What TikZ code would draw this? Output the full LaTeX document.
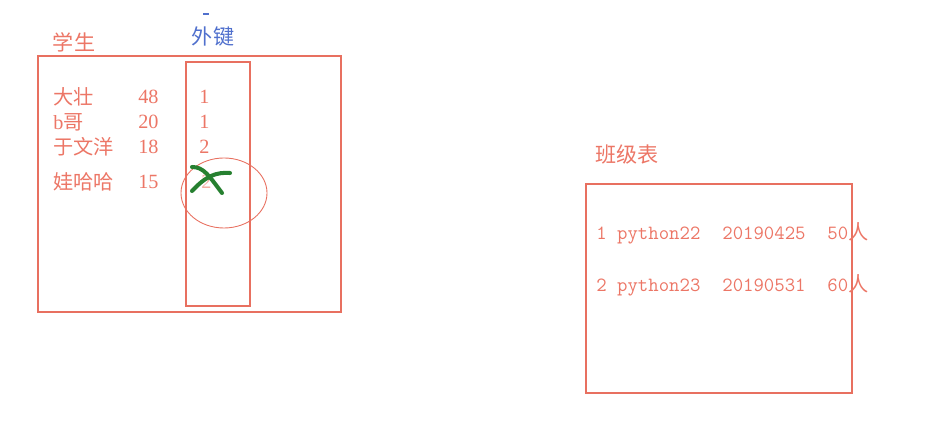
\documentclass[tikz,border=0pt]{standalone}
\usepackage{fontspec}
\newfontfamily\cjk{Noto Sans CJK SC}
\newfontfamily\numfont{Liberation Serif}
\usetikzlibrary{positioning}
\definecolor{linered}{RGB}{232,112,96}
\definecolor{textred}{RGB}{236,118,102}
\definecolor{keyblue}{RGB}{80,112,205}
\definecolor{crossgreen}{RGB}{38,128,48}

\begin{document}
\begin{tikzpicture}[
    x=0.02cm, y=-0.02cm,
    frame/.style={draw=linered, line width=0.8pt},
    title/.style={text=textred, font=\cjk\fontsize{12}{14}\selectfont, inner sep=0pt},
    cell/.style={text=textred, font=\numfont\fontsize{11.5}{13}\selectfont, anchor=west, inner sep=0pt},
    row/.style={text=textred, font=\ttfamily\fontsize{11.5}{13}\selectfont, anchor=base west, inner sep=0pt},
    scrawl/.style={draw=crossgreen, line width=2.3pt, line cap=round}
]
\useasboundingbox (0,0) rectangle (925,431);

% ---------------- student table ----------------
\draw[frame] (38,56) rectangle (341,312);
\draw[frame] (186,62) rectangle (250,306);
\node[title] (stu) at (74,42) {学生};
\node[title, text=keyblue] (fk) at (213,37) {外键};
\draw[keyblue, line width=0.8pt] (203,14) -- (209,14);

\foreach \nm/\age/\cls/\y [count=\i] in {{\cjk 大壮}/48/1/97, {b\cjk 哥}/20/1/122, {\cjk 于文洋}/18/2/147}
{
    \node[cell] (name\i) at (53,\y) {\nm};
    \node[cell] (age\i) at (138,\y) {\age};
    \node[cell] (cls\i) at (199,\y) {\cls};
}
\node[cell] (name4) at (53,182) {\cjk 娃哈哈};
\node[cell] (age4) at (138,182) {15};
\node[cell, text=textred!60] (cls4) at (201,182) {2};

% crossed out key
\draw[linered, line width=0.5pt] (224,193) ellipse [x radius=43, y radius=35];
\draw[scrawl] (192,167) .. controls (204,167) and (209,176) .. (222,193);
\draw[scrawl] (230,173) .. controls (216,172) and (206,176) .. (192,191);

% ---------------- class table ----------------
\node[title] (cls) at (627,155) {班级表};
\draw[frame] (586,184) rectangle (852,393);

\node[row] (c1id) at (596,240) {1 python22};
\node[row] (c1day) at (722,240) {20190425};
\node[row] (c1num) at (827,240) {50{\cjk 人}};
\node[row] (c2id) at (596,292) {2 python23};
\node[row] (c2day) at (722,292) {20190531};
\node[row] (c2num) at (827,292) {60{\cjk 人}};

\end{tikzpicture}
\end{document}
